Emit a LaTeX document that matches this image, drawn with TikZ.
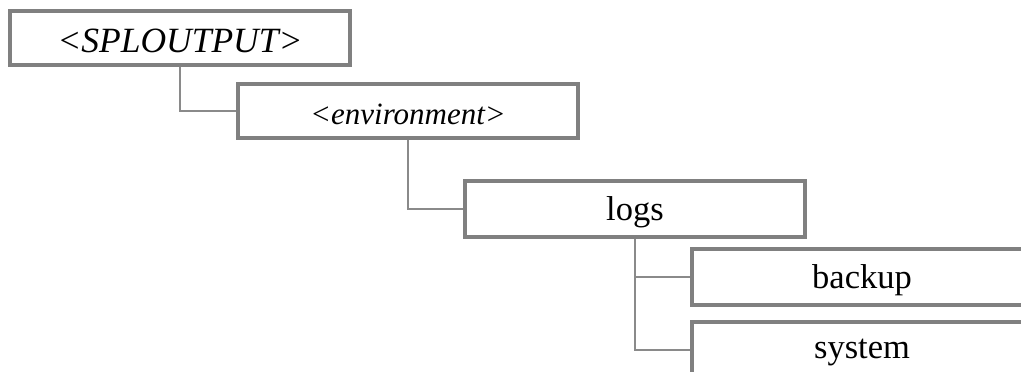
\documentclass[tikz,border=0pt]{standalone}
\usepackage{fontspec}
\setmainfont{Liberation Serif}
\definecolor{boxgray}{HTML}{808080}
\definecolor{linegray}{HTML}{8A8A8A}
\newcommand{\boxtext}[1]{\raisebox{-3pt}[\height][\depth]{#1}}
\begin{document}
\begin{tikzpicture}[x=1pt,y=-1pt,
  dirbox/.style={draw=boxgray, line width=3.8pt, fill=white, minimum width=340pt,
    minimum height=54pt, inner sep=0pt, anchor=center},
  link/.style={draw=linegray, line width=1.8pt}]
\useasboundingbox (0,0) rectangle (1021,372);
\clip (0,0) rectangle (1021,372);
\node[dirbox, font=\fontsize{35.5}{38}\selectfont\itshape] (sp) at (180,38) {\boxtext{<SPLOUTPUT>}};
\node[dirbox, font=\fontsize{31}{34}\selectfont\itshape] (env) at (408,111) {\boxtext{<environment>}};
\node[dirbox, minimum height=56pt, font=\fontsize{34.5}{38}\selectfont] (logs) at (635,209) {\boxtext{logs}};
\node[dirbox, minimum height=56pt, font=\fontsize{34.5}{38}\selectfont] (backup) at (862,277) {\boxtext{backup}};
\node[dirbox, minimum height=56pt, font=\fontsize{34.5}{38}\selectfont] (system) at (862,350) {\boxtext{system}};
\draw[link] (sp.south) |- (env.west);
\draw[link] (env.south) |- (logs.west);
\draw[link] (logs.south) |- (backup.west);
\draw[link] (logs.south) |- (system.west);
\end{tikzpicture}
\end{document}
